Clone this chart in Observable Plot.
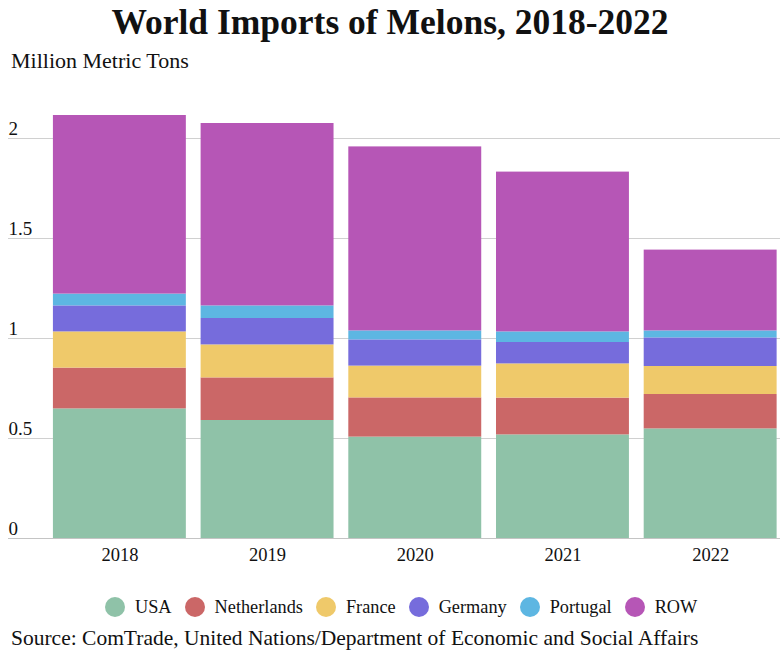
<!DOCTYPE html>
<html><head><meta charset="utf-8">
<script src="https://cdn.jsdelivr.net/npm/d3@7"></script>
<script src="https://cdn.jsdelivr.net/npm/@observablehq/plot@0.6"></script>
<style>
body{margin:0;background:#fff;font-family:"Liberation Serif","Times New Roman",serif;width:780px;height:651px;overflow:hidden;position:relative;color:#111}
#title{position:absolute;left:0;top:0;width:780px;text-align:center;font-weight:bold;font-size:35.5px;line-height:44px;white-space:nowrap}
#sub{position:absolute;left:11px;top:49px;font-size:22px;line-height:24px;white-space:nowrap}
#chart{position:absolute;left:0;top:80px}
#legend{position:absolute;left:105px;top:594.5px;display:flex;align-items:center;font-size:18.3px;line-height:24px;white-space:nowrap}
#legend .it{display:flex;align-items:center;margin-right:13px}
#legend .dot{width:20px;height:20px;border-radius:50%;margin-right:10px}
#cap{position:absolute;left:11px;top:629px;font-size:21.5px;line-height:18px;white-space:nowrap}
</style>
</head><body>
<div id="title">World Imports of Melons, 2018-2022</div>
<div id="sub">Million Metric Tons</div>
<div id="chart"></div>
<div id="legend"></div>
<div id="cap">Source: ComTrade, United Nations/Department of Economic and Social Affairs</div>
<script>
const years = ["2018","2019","2020","2021","2022"];
const countries = ["USA","Netherlands","France","Germany","Portugal","ROW"];
const usa         = [0.648, 0.590, 0.507, 0.518, 0.548];
const netherlands = [0.204, 0.213, 0.196, 0.184, 0.172];
const france      = [0.181, 0.165, 0.159, 0.171, 0.140];
const germany     = [0.130, 0.132, 0.131, 0.107, 0.143];
const portugal    = [0.059, 0.063, 0.045, 0.053, 0.035];
const row         = [0.893, 0.912, 0.920, 0.799, 0.404];
const colors = ["#8fc2a8","#cb6767","#efc96a","#766cdc","#5db6e2","#b656b6"];
const yTicks = [0, 0.5, 1, 1.5, 2];

const series = [usa, netherlands, france, germany, portugal, row];
const rows = [];
countries.forEach((c, i) => years.forEach((y, j) => rows.push({year: y, country: c, value: series[i][j]})));

const chart = Plot.plot({
  width: 780,
  height: 500,
  marginLeft: 8,
  marginRight: 0,
  marginTop: 18,
  marginBottom: 42,
  style: {fontFamily: "Liberation Serif, Times New Roman, serif", fontSize: "18px", color: "#111", background: "#fff"},
  x: {domain: years, paddingInner: 0.1, paddingOuter: 0.1635, align: 0.93, round: false, label: null},
  y: {domain: [0, 2.2], label: null},
  color: {domain: countries, range: colors},
  marks: [
    Plot.gridY(yTicks, {stroke: "#d0d0d0", strokeOpacity: 1}),
    Plot.barY(rows, {x: "year", y: "value", fill: "country", order: countries}),
    Plot.ruleY([0], {stroke: "#c4c4c4"}),
    Plot.axisY(yTicks, {anchor: "left", tickSize: 0, tickPadding: 0, textAnchor: "start", dy: -10, fontSize: 19, tickFormat: d => String(d), label: null}),
    Plot.axisX({tickSize: 0, tickPadding: 9, fontSize: 18.5, label: null})
  ]
});
document.getElementById("chart").appendChild(chart);

const leg = document.getElementById("legend");
countries.forEach((c, i) => {
  const it = document.createElement("div"); it.className = "it";
  const d = document.createElement("span"); d.className = "dot"; d.style.background = colors[i];
  const t = document.createElement("span"); t.textContent = c;
  it.appendChild(d); it.appendChild(t); leg.appendChild(it);
});
</script>
</body></html>
